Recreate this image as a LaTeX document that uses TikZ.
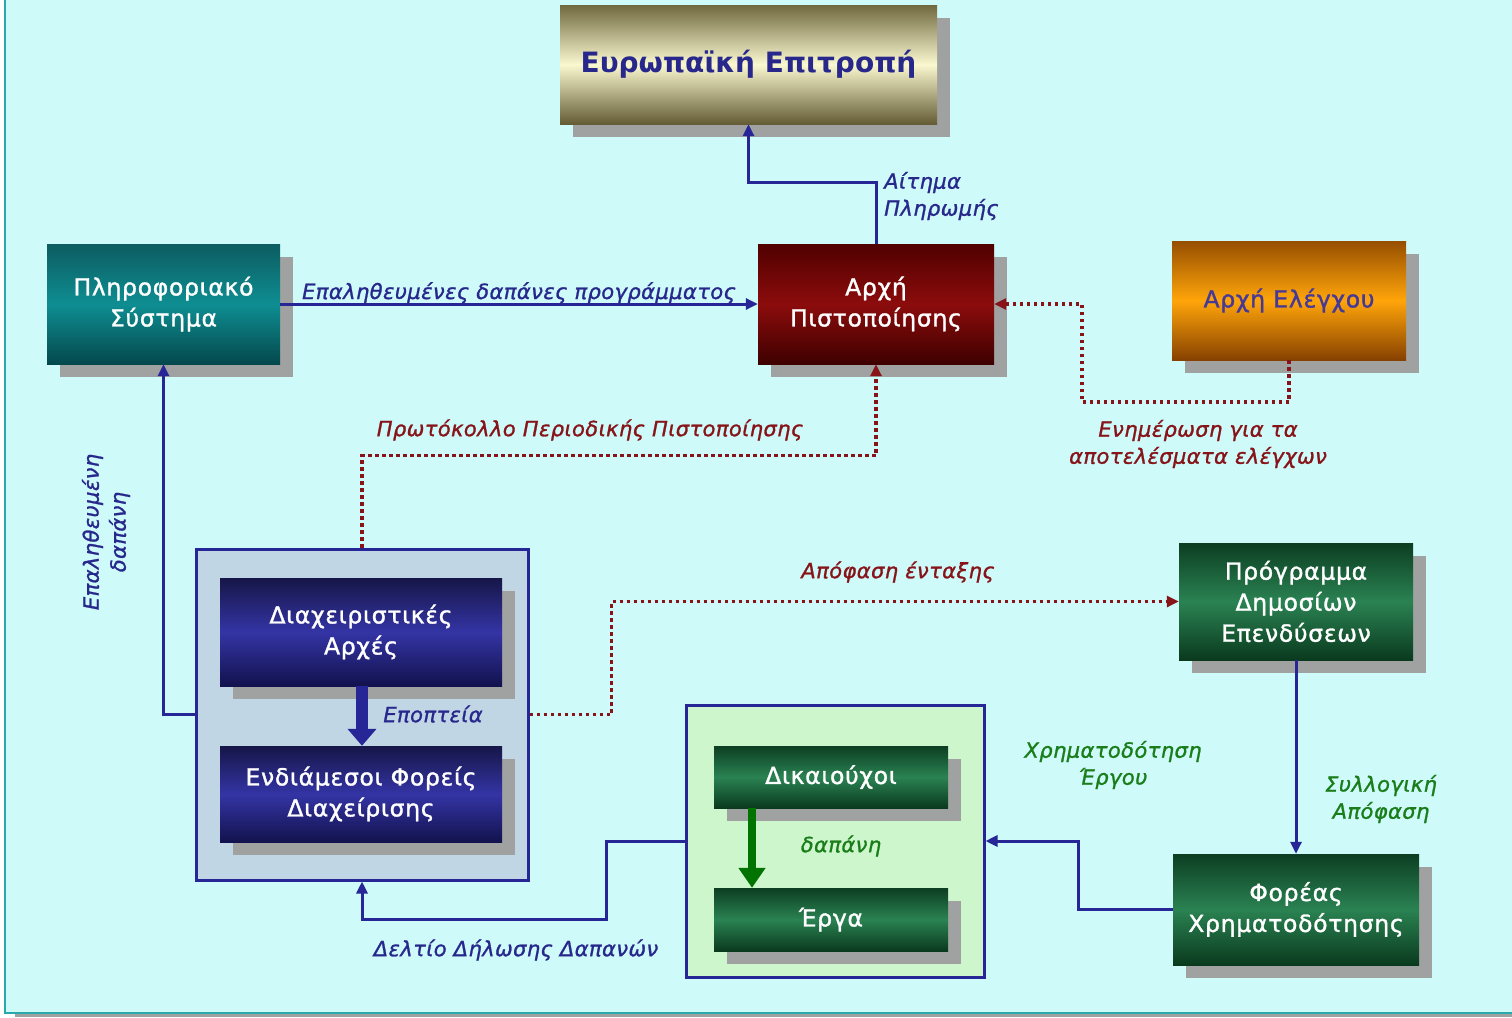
\documentclass[tikz,border=0pt]{standalone}
\usepackage{fontspec}
\setmainfont{DejaVu Sans}
\newfontfamily\boxff[FakeBold=1.3,LetterSpace=3]{DejaVu Sans}
\newfontfamily\lblff[FakeBold=1.2,LetterSpace=2]{DejaVu Sans}
\usetikzlibrary{arrows.meta,shadows}
\definecolor{bgc}{RGB}{206,250,250}
\definecolor{bgedge}{RGB}{40,170,170}
\definecolor{shadowc}{RGB}{160,162,162}
\definecolor{navyl}{RGB}{38,38,150}
\definecolor{navyt}{RGB}{40,40,140}
\definecolor{dred}{RGB}{135,20,25}
\definecolor{greent}{RGB}{25,125,25}
\definecolor{greena}{RGB}{0,115,0}
\definecolor{grpblue}{RGB}{192,214,228}
\definecolor{grpgreen}{RGB}{206,246,204}
\definecolor{ecTop}{RGB}{112,104,62}
\definecolor{ecMid}{RGB}{250,248,208}
\definecolor{ecBot}{RGB}{100,92,52}
\definecolor{tlTop}{RGB}{12,92,96}
\definecolor{tlMid}{RGB}{14,142,146}
\definecolor{tlBot}{RGB}{4,72,76}
\definecolor{rdTop}{RGB}{80,0,0}
\definecolor{rdMid}{RGB}{140,12,12}
\definecolor{rdBot}{RGB}{62,0,0}
\definecolor{orTop}{RGB}{150,78,0}
\definecolor{orMid}{RGB}{255,165,10}
\definecolor{orBot}{RGB}{135,65,0}
\definecolor{nvTop}{RGB}{22,22,72}
\definecolor{nvMid}{RGB}{52,52,165}
\definecolor{nvBot}{RGB}{18,18,78}
\definecolor{gnTop}{RGB}{12,62,34}
\definecolor{gnMid}{RGB}{42,130,82}
\definecolor{gnBot}{RGB}{10,58,30}
\definecolor{ctrlt}{RGB}{70,58,150}
\newcommand{\boxfont}{\boxff\fontsize{23.5}{31}\selectfont}
\newcommand{\lblfont}{\lblff\fontsize{21}{27}\selectfont\itshape}
\tikzset{
  box/.style={draw=none, inner sep=0pt, align=center, text=white, font=\boxfont,
    drop shadow={shadow xshift=13pt, shadow yshift=-13pt, opacity=1, fill=shadowc}},
  ecbox/.style={box, top color=ecTop, bottom color=ecBot, middle color=ecMid},
  tlbox/.style={box, top color=tlTop, bottom color=tlBot, middle color=tlMid},
  rdbox/.style={box, top color=rdTop, bottom color=rdBot, middle color=rdMid},
  orbox/.style={box, top color=orTop, bottom color=orBot, middle color=orMid},
  nvbox/.style={box, top color=nvTop, bottom color=nvBot, middle color=nvMid},
  gnbox/.style={box, top color=gnTop, bottom color=gnBot, middle color=gnMid},
  grp/.style={draw=navyl, line width=3pt, inner sep=0pt},
  con/.style={draw=navyl, line width=3pt, -{Triangle[length=12pt,width=11pt]}},
  dotcon/.style={draw=dred, line width=3.5pt, dash pattern=on 3.5pt off 3.5pt,
    -{Triangle[length=12pt,width=11pt]}},
  lbl/.style={inner sep=0pt, font=\lblfont, align=center},
}
\begin{document}
\begin{tikzpicture}[x=1pt,y=-1pt]
\useasboundingbox (0,0) rectangle (1512,1017);
% background panel
\fill[shadowc] (15,1010) rectangle (1512,1017);
\fill[bgc] (5,0) rectangle (1512,1013);
\draw[bgedge, line width=1.5pt] (5,0) -- (5,1013) -- (1512,1013);

% group boxes
\node[grp, fill=grpblue, minimum width=332pt, minimum height=331pt] (grpL) at (362,714.5) {};
\node[grp, fill=grpgreen, minimum width=298pt, minimum height=272pt] (grpG) at (835,841) {};

% main boxes
\node[ecbox, text=navyt, minimum width=377pt, minimum height=119pt,
  font=\fontsize{28}{32}\selectfont\bfseries] (ec) at (748.5,64.5) {Ευρωπαϊκή Επιτροπή};
\node[tlbox, minimum width=233pt, minimum height=120pt] (info) at (163.5,304) {Πληροφοριακό\\Σύστημα};
\node[rdbox, minimum width=236pt, minimum height=120pt] (cert) at (876,304) {Αρχή\\Πιστοποίησης};
\node[orbox, text=ctrlt, minimum width=234pt, minimum height=119pt] (ctrl) at (1289,300.5) {Αρχή Ελέγχου};
\node[nvbox, minimum width=282pt, minimum height=108pt] (ma) at (361,632) {Διαχειριστικές\\Αρχές};
\node[nvbox, minimum width=282pt, minimum height=96pt] (ifd) at (361,794) {Ενδιάμεσοι Φορείς\\Διαχείρισης};
\node[gnbox, minimum width=234pt, minimum height=62pt] (ben) at (831,777) {Δικαιούχοι};
\node[gnbox, minimum width=234pt, minimum height=63pt] (proj) at (831,919.5) {Έργα};
\node[gnbox, minimum width=234pt, minimum height=117pt] (pde) at (1296,601.5) {Πρόγραμμα\\Δημοσίων\\Επενδύσεων};
\node[gnbox, minimum width=246pt, minimum height=111pt] (fin) at (1296,909.5) {Φορέας\\Χρηματοδότησης};

% inner arrows
\draw[draw=navyl, line width=12pt, -{Triangle[length=17pt,width=28pt]}] (ma.south -| 362,0) -- (ifd.north -| 362,0);
\draw[draw=greena, line width=8pt, -{Triangle[length=20pt,width=26pt]}] (ben.south -| 752,0) -- (proj.north -| 752,0);

% connectors
\draw[con] (cert.north) -- ++(0,-61) -| (ec.south);
\draw[con] (info.east) -- (cert.west);
\draw[dotcon] (ctrl.south) -- ++(0,42) -| (1082,304) -- (cert.east);
\draw[dotcon] (grpL.north) -- ++(0,-92) -| (cert.south);
\draw[con] (grpL.west) -| (info.south);
\draw[dotcon] (grpL.east) -- ++(82,0) |- (pde.west);
\draw[con] (pde.south) -- (fin.north);
\draw[con] (fin.west) -- ++(-94,0) |- (grpG.east);
\draw[con] (grpG.west) -- ++(-78,0) -- ++(0,78) -| (grpL.south);

% labels
\node[lbl, text=navyt, align=left, anchor=west] (lpay) at (884,196) {Αίτημα\\Πληρωμής};
\node[lbl, text=navyt, anchor=base] (lvexp) at (519,299) {Επαληθευμένες δαπάνες προγράμματος};
\node[lbl, text=dred] (linfo) at (1198,444) {Ενημέρωση για τα\\αποτελέσματα ελέγχων};
\node[lbl, text=dred] (lprot) at (590,430) {Πρωτόκολλο Περιοδικής Πιστοποίησης};
\node[lbl, text=navyt, rotate=90] (lver) at (106,532) {Επαληθευμένη\\δαπάνη};
\node[lbl, text=dred] (ldec) at (898,572) {Απόφαση ένταξης};
\node[lbl, text=navyt] (lsup) at (433,714) {Εποπτεία};
\node[lbl, text=greent] (lexp) at (841,846) {δαπάνη};
\node[lbl, text=greent] (lfund) at (1113,765) {Χρηματοδότηση\\Έργου};
\node[lbl, text=greent] (ljoint) at (1381,799) {Συλλογική\\Απόφαση};
\node[lbl, text=navyt] (ldecl) at (516,950) {Δελτίο Δήλωσης Δαπανών};
\end{tikzpicture}
\end{document}
